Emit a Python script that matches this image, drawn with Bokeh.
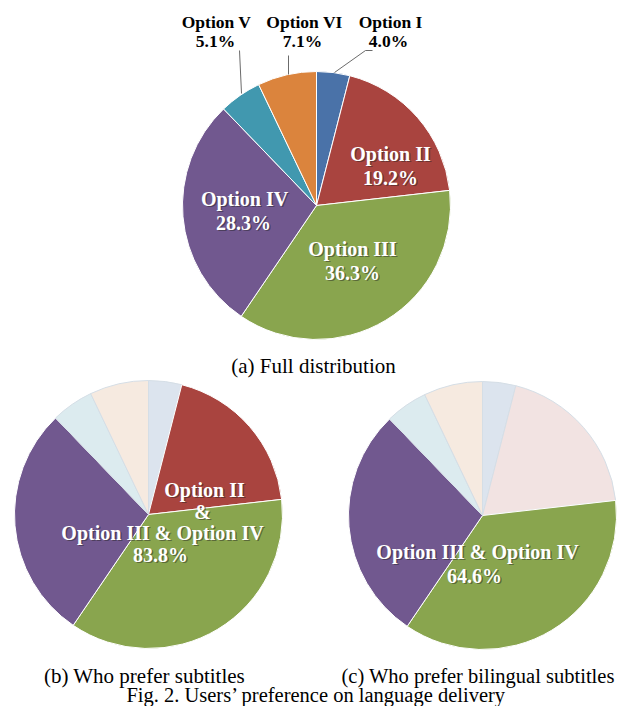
import numpy as np
from bokeh.plotting import figure
from bokeh.models import ColumnDataSource, Range1d
from bokeh.core.properties import value
from bokeh.embed import file_html
from bokeh.resources import INLINE

# ---------------- data ----------------
options = ["Option I", "Option II", "Option III", "Option IV", "Option V", "Option VI"]
shares = [4.0, 19.2, 36.3, 28.3, 5.1, 7.1]
pct_labels = ["4.0%", "19.2%", "36.3%", "28.3%", "5.1%", "7.1%"]
colors_full = ["#4A72A8", "#A9443F", "#89A54E", "#71588F", "#4198AF", "#DB843D"]
colors_pale = ["#DCE4EE", "#F2E3E2", "#E3EBD6", "#E0DBE8", "#DCEBEF", "#F6EAE0"]
highlight_b = ["Option II", "Option III", "Option IV"]
highlight_c = ["Option III", "Option IV"]
captions = ["(a) Full distribution", "(b) Who prefer subtitles",
            "(c) Who prefer bilingual subtitles"]
fig_caption = "Fig. 2. Users\u2019 preference on language delivery"

# ---------------- layout ----------------
W, H = 619, 706


def Y(py):
    return H - py


p = figure(width=W, height=H, output_backend="svg", toolbar_location=None,
           x_range=Range1d(0, W), y_range=Range1d(0, H),
           x_axis_location=None, y_axis_location=None, min_border=0)
p.grid.visible = False
p.outline_line_color = None
p.background_fill_color = "white"
p.border_fill_color = "white"

SERIF = value("Liberation Serif")
R = 134

frac = np.array(shares) / np.sum(shares)
cum = np.concatenate([[0.0], np.cumsum(frac)])
starts = np.pi / 2 - 2 * np.pi * cum[:-1]
ends = np.pi / 2 - 2 * np.pi * cum[1:]


def pie(cx, cy, highlighted):
    cols = [c if (highlighted is None or o in highlighted) else pc
            for o, c, pc in zip(options, colors_full, colors_pale)]
    lines = ["white" if (highlighted is None or o in highlighted) else "#D5DEE6"
             for o in options]
    src = ColumnDataSource(dict(x=[cx] * len(options), y=[Y(cy)] * len(options),
                                start=starts, end=ends, color=cols, lc=lines))
    p.wedge(x="x", y="y", radius=R, start_angle="start", end_angle="end",
            direction="clock", fill_color="color", line_color="lc",
            line_width=1, source=src)


pie(316, 205, None)
pie(148, 514, highlight_b)
pie(482, 515, highlight_c)


def label(xs, ys, texts, size, color="white", shadow=True, style="bold",
          baseline="middle", align="center"):
    ys = [Y(v) for v in ys]
    if shadow:
        p.text(x=xs, y=ys, text=texts, text_font=SERIF, text_font_style=style,
               text_font_size=size, text_align=align, text_baseline=baseline,
               text_color="#1e1e1e", text_alpha=0.45, x_offset=1.5, y_offset=1.5)
    p.text(x=xs, y=ys, text=texts, text_font=SERIF, text_font_style=style,
           text_font_size=size, text_align=align, text_baseline=baseline,
           text_color=color)


# ---- pie (a) inner labels
label([390, 390], [153, 177], [options[1], pct_labels[1]], "20px")
label([244, 243], [198, 222], [options[3], pct_labels[3]], "20px")
label([352, 352], [248, 272], [options[2], pct_labels[2]], "20px")

# ---- pie (a) outer labels with leader lines
label([216, 215], [21, 40], [options[4], pct_labels[4]], "17.5px", color="black", shadow=False)
label([304, 302], [21, 40], [options[5], pct_labels[5]], "17.5px", color="black", shadow=False)
label([390, 388], [21, 40], [options[0], pct_labels[0]], "17.5px", color="black", shadow=False)
p.multi_line(xs=[[239, 241], [288, 288], [334, 365, 372]],
             ys=[[Y(50), Y(93)], [Y(55), Y(74)], [Y(72), Y(50), Y(50)]],
             line_color="#6b6b6b", line_width=1)

# ---- pie (b) combined label
sum_b = sum(s for o, s in zip(options, shares) if o in highlight_b)
label([204, 202, 162, 160], [489, 511, 532, 554],
      [highlight_b[0], "&", f"{highlight_b[1]} & {highlight_b[2]}", f"{sum_b:.1f}%"], "20px")

# ---- pie (c) combined label
sum_c = sum(s for o, s in zip(options, shares) if o in highlight_c)
label([477, 474], [551, 575],
      [f"{highlight_c[0]} & {highlight_c[1]}", f"{sum_c:.1f}%"], "20px")

# ---- captions
label([313], [365], [captions[0]], "21px", color="black", shadow=False,
      style="normal", baseline="alphabetic")
label([144], [675], [captions[1]], "21px", color="black", shadow=False,
      style="normal", baseline="alphabetic")
label([341], [675], [captions[2]], "20.5px", color="black", shadow=False,
      style="normal", baseline="alphabetic", align="left")
label([316], [694], [fig_caption], "20.5px", color="black", shadow=False,
      style="normal", baseline="alphabetic")

open("out.html", "w").write(file_html(p, INLINE))
